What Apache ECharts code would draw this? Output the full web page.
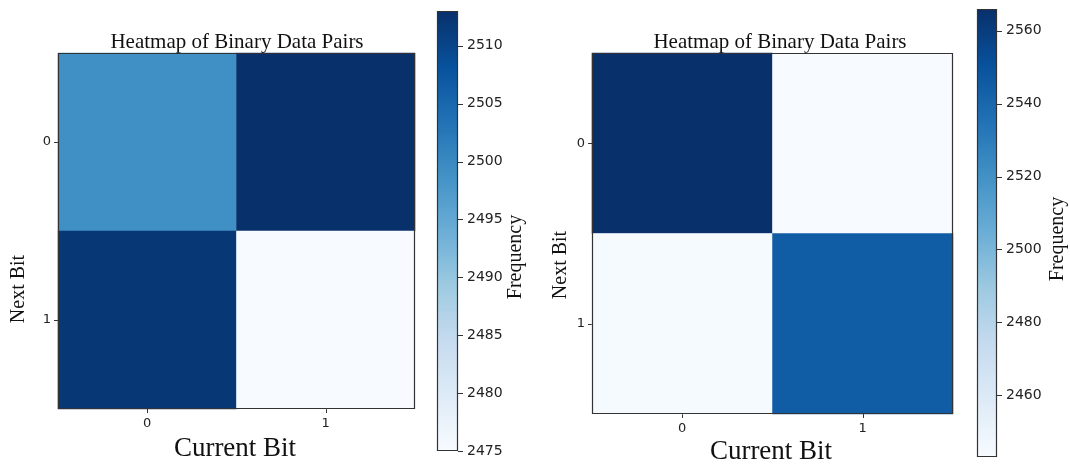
<!DOCTYPE html>
<html>
<head>
<meta charset="utf-8">
<title>Heatmap of Binary Data Pairs</title>
<script src="https://cdn.jsdelivr.net/npm/echarts@6/dist/echarts.min.js"></script>
<style>
  html, body { margin: 0; padding: 0; background: #fff; }
  #chart { width: 1070px; height: 465px; }
</style>
</head>
<body>
<div id="chart"></div>
<script>
// Category labels for both axes
const currentBits = ['0', '1'];
const nextBits = ['0', '1'];

// Pair counts: rows = next bit, columns = current bit
const leftCounts = [
  [2499, 2513],
  [2512, 2475]
];
const rightCounts = [
  [2566, 2443],
  [2444, 2545]
];

// Colorbar tick values
const leftBarTicks = [2475, 2480, 2485, 2490, 2495, 2500, 2505, 2510];
const rightBarTicks = [2460, 2480, 2500, 2520, 2540, 2560];

// matplotlib "Blues" colormap stops
const blues = ['#f7fbff', '#deebf7', '#c6dbef', '#9ecae1', '#6baed6',
               '#4292c6', '#2171b5', '#08519c', '#08306b'];

const serif = 'Liberation Serif';
const sans = 'DejaVu Sans';
const ink = '#333';

function toCells(counts) {
  const out = [];
  counts.forEach((row, y) => row.forEach((v, x) => out.push([x, y, v])));
  return out;
}
function range(counts) {
  const flat = counts.flat();
  return [Math.min(...flat), Math.max(...flat)];
}
const leftRange = range(leftCounts);
const rightRange = range(rightCounts);

const chart = echarts.init(document.getElementById('chart'), null, { renderer: 'canvas' });

const heatGrids = [
  { left: 58, top: 53, width: 357, height: 356 },
  { left: 592, top: 53, width: 361, height: 361 }
];
const barGrids = [
  { left: 437, top: 11, width: 21, height: 440 },
  { left: 977, top: 9, width: 20, height: 448 }
];
const allGrids = heatGrids.concat(barGrids);

const grids = allGrids.map(g => Object.assign({ show: false }, g));

function heatX(i) {
  return {
    type: 'category', gridIndex: i, data: currentBits,
    axisLine: { show: false },
    axisTick: { show: true, alignWithLabel: true, length: 4, lineStyle: { color: ink } },
    axisLabel: { fontFamily: sans, fontSize: 13, color: '#222', margin: 8 },
    splitLine: { show: false }, splitArea: { show: false }
  };
}
function heatY(i) {
  return {
    type: 'category', gridIndex: i, data: nextBits, inverse: true,
    axisLine: { show: false },
    axisTick: { show: true, alignWithLabel: true, length: 4, lineStyle: { color: ink } },
    axisLabel: { fontFamily: sans, fontSize: 13, color: '#222', margin: 7 },
    splitLine: { show: false }, splitArea: { show: false }
  };
}
function barX(i) {
  return { type: 'value', gridIndex: i, min: 0, max: 1, show: false };
}
function barY(i, r, ticks) {
  return {
    type: 'value', gridIndex: i, position: 'right', min: r[0], max: r[1],
    axisLine: { show: false },
    axisTick: { show: false },
    axisLabel: { fontFamily: sans, fontSize: 14, color: '#222', margin: 9,
                 customValues: ticks, formatter: v => String(v) },
    splitLine: { show: false }
  };
}

// Gradient strip spanning the colorbar's value range
function colorbarSeries(axisIdx) {
  return {
    type: 'custom', xAxisIndex: axisIdx, yAxisIndex: axisIdx,
    silent: true,
    data: [[0, 0]],
    renderItem: function (params, api) {
      const yAxisModel = chart.getModel().getComponent('yAxis', axisIdx);
      const ext = yAxisModel.axis.scale.getExtent();
      const p0 = api.coord([0, ext[0]]);
      const p1 = api.coord([1, ext[1]]);
      return {
        type: 'rect',
        shape: { x: p0[0], y: p1[1], width: p1[0] - p0[0], height: p0[1] - p1[1] },
        style: {
          fill: new echarts.graphic.LinearGradient(0, 1, 0, 0,
            blues.map((c, k) => ({ offset: k / (blues.length - 1), color: c })))
        }
      };
    }
  };
}

// Short outward tick marks on the right edge of a colorbar
function colorbarTicks(axisIdx, ticks) {
  return {
    type: 'custom', xAxisIndex: axisIdx, yAxisIndex: axisIdx,
    silent: true, z: 5, clip: false,
    data: ticks.map(v => [1, v]),
    renderItem: function (params, api) {
      const p = api.coord([api.value(0), api.value(1)]);
      const y = Math.round(p[1]) + 0.5;
      return {
        type: 'line',
        shape: { x1: p[0], y1: y, x2: p[0] + 5, y2: y },
        style: { stroke: ink, lineWidth: 1 }
      };
    }
  };
}

function heatSeries(i, counts) {
  return {
    type: 'heatmap', xAxisIndex: i, yAxisIndex: i,
    data: toCells(counts),
    emphasis: { disabled: true },
    itemStyle: { borderWidth: 0 }
  };
}

function text(x, y, str, size, rotate) {
  return {
    type: 'text', x: x, y: y, rotation: rotate ? Math.PI / 2 : 0, silent: true,
    style: { text: str, fontFamily: serif, fontSize: size, fill: '#111',
             align: 'center', verticalAlign: 'middle' }
  };
}

// Frame drawn on top of each plot area and colorbar
const frames = allGrids.map(g => ({
  type: 'rect', silent: true, z: 100,
  shape: { x: g.left + 0.5, y: g.top + 0.5, width: g.width - 1, height: g.height - 1 },
  style: { fill: 'none', stroke: ink, lineWidth: 1.2 }
}));

chart.setOption({
  animation: false,
  backgroundColor: '#fff',
  grid: grids,
  xAxis: [heatX(0), heatX(1), barX(2), barX(3)],
  yAxis: [heatY(0), heatY(1), barY(2, leftRange, leftBarTicks), barY(3, rightRange, rightBarTicks)],
  visualMap: [
    { type: 'continuous', show: false, seriesIndex: 0, min: leftRange[0], max: leftRange[1],
      inRange: { color: blues } },
    { type: 'continuous', show: false, seriesIndex: 1, min: rightRange[0], max: rightRange[1],
      inRange: { color: blues } }
  ],
  series: [
    heatSeries(0, leftCounts),
    heatSeries(1, rightCounts),
    colorbarSeries(2),
    colorbarSeries(3),
    colorbarTicks(2, leftBarTicks),
    colorbarTicks(3, rightBarTicks)
  ],
  graphic: frames.concat([
    text(237, 42, 'Heatmap of Binary Data Pairs', 21, false),
    text(780, 42, 'Heatmap of Binary Data Pairs', 21, false),
    text(235, 449, 'Current Bit', 27, false),
    text(771, 452, 'Current Bit', 27, false),
    text(19, 289, 'Next Bit', 20, true),
    text(561, 265, 'Next Bit', 20, true),
    text(516, 257, 'Frequency', 20, true),
    text(1058, 239, 'Frequency', 20, true)
  ])
});
</script>
</body>
</html>
